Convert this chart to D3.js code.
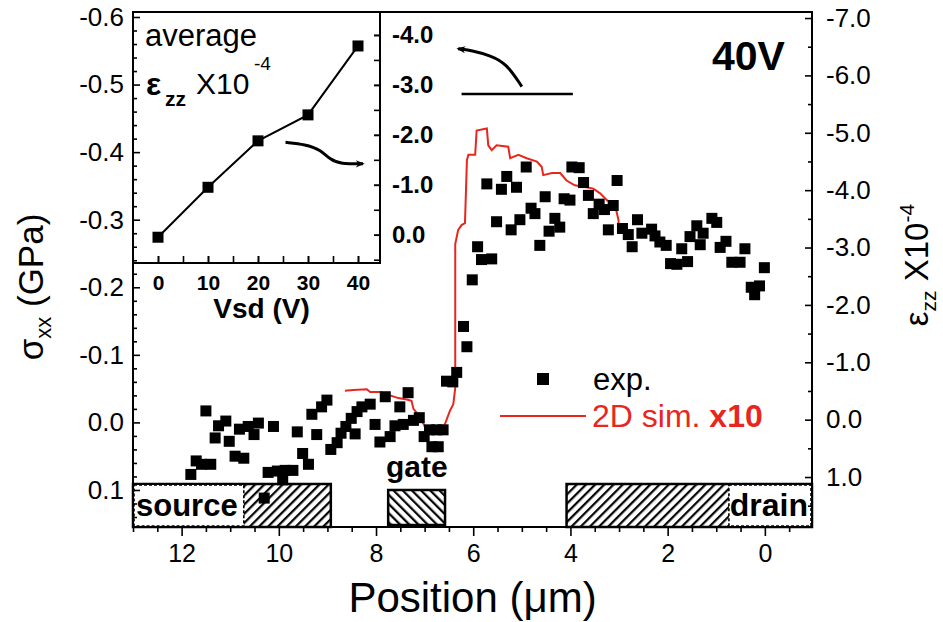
<!DOCTYPE html>
<html>
<head>
<meta charset="utf-8">
<script src="https://cdn.jsdelivr.net/npm/d3@7"></script>
<style>
  body { margin: 0; background: #fff; }
  svg { display: block; font-family: "Liberation Sans", Arial, Helvetica, sans-serif; }
</style>
</head>
<body>
<svg id="chart" width="943" height="622"></svg>
<script>
// experimental points: position (um) and sigma_xx (GPa)
const expPos = [11.81, 11.70, 11.59, 11.40, 11.50, 11.31, 11.24, 11.09, 11.02, 10.90,
  10.72, 10.81, 10.63, 10.51, 10.42, 10.11, 10.30, 10.22, 10.03, 9.87,
  9.71, 9.92, 9.62, 9.51, 9.39, 9.32, 9.22, 9.12, 9.01, 8.93,
  8.80, 8.72, 8.62, 8.51, 8.39, 8.29, 8.12, 8.43, 8.02, 7.92,
  7.81, 7.71, 7.61, 7.51, 7.44, 7.34, 7.23, 7.11, 7.01, 6.90,
  6.75, 6.62, 6.85, 6.72, 6.55, 6.42, 6.34, 6.20, 6.13, 6.02,
  5.91, 5.83, 5.62, 5.72, 5.42, 5.31, 5.11, 4.91, 5.52, 5.22,
  5.04, 4.81, 4.73, 4.52, 4.63, 4.44, 4.32, 4.22, 4.13, 4.01,
  3.97, 3.82, 3.73, 3.63, 3.53, 3.41, 3.30, 3.12, 3.04, 3.22,
  2.93, 2.81, 2.73, 2.62, 2.53, 2.33, 2.26, 2.16, 2.03, 1.94,
  1.81, 1.71, 1.59, 1.54, 1.40, 1.27, 1.33, 1.09, 0.99, 0.92,
  0.80, 0.68, 0.51, 0.41, 0.28, 0.11, 0.21, 0.01];
const expSigma = [0.077, 0.057, 0.062, 0.062, -0.017, 0.023, 0.005, -0.002, 0.028, 0.050,
  0.053, 0.010, 0.006, 0.018, 0.001, 0.006, 0.112, 0.074, 0.072, 0.071,
  0.071, 0.085, 0.014, 0.046, 0.062, -0.012, 0.018, -0.023, -0.033, 0.040,
  0.030, 0.016, 0.006, -0.006, -0.016, -0.023, -0.027, 0.017, 0.003, 0.029,
  -0.038, 0.021, 0.005, -0.023, 0.003, -0.044, -0.003, -0.007, 0.021, 0.011,
  0.011, 0.011, 0.036, 0.036, -0.061, -0.060, -0.074, -0.142, -0.112, -0.211,
  -0.260, -0.241, -0.242, -0.353, -0.345, -0.364, -0.348, -0.378, -0.297, -0.285,
  -0.300, -0.317, -0.309, -0.334, -0.262, -0.283, -0.302, -0.289, -0.331, -0.329,
  -0.378, -0.377, -0.355, -0.336, -0.309, -0.323, -0.315, -0.321, -0.358, -0.285,
  -0.287, -0.278, -0.260, -0.300, -0.280, -0.286, -0.276, -0.267, -0.262, -0.235,
  -0.234, -0.257, -0.238, -0.275, -0.291, -0.280, -0.263, -0.302, -0.296, -0.259,
  -0.268, -0.237, -0.237, -0.257, -0.200, -0.202, -0.189, -0.229];

// 2D simulation (x10), same axes
const simPos = [8.64, 8.47, 8.19, 8.12, 7.92, 7.54, 7.37, 7.27, 7.23, 7.09,
  6.99, 6.89, 6.66, 6.58, 6.48, 6.41, 6.37, 6.37, 6.37, 6.31,
  6.24, 6.17, 6.13, 6.10, 5.96, 5.93, 5.72, 5.69, 5.62, 5.52,
  5.28, 5.24, 5.07, 4.90, 4.69, 4.59, 4.56, 4.38, 4.21, 4.08,
  3.91, 3.67, 3.53, 3.39, 3.25, 3.08, 3.01, 3.01];
const simSigma = [-0.047, -0.048, -0.049, -0.045, -0.045, -0.036, -0.034, -0.032, -0.020, -0.008,
  0.007, 0.010, 0.010, 0.002, -0.017, -0.027, -0.051, -0.151, -0.264, -0.285,
  -0.292, -0.295, -0.388, -0.396, -0.396, -0.432, -0.435, -0.410, -0.403, -0.410,
  -0.408, -0.391, -0.396, -0.391, -0.386, -0.378, -0.366, -0.369, -0.369, -0.358,
  -0.351, -0.348, -0.346, -0.339, -0.329, -0.321, -0.299, -0.295];

// inset: average strain vs source-drain voltage
const vsd = [0, 10, 20, 30, 40];
const avgStrain = [0.05, -0.95, -1.88, -2.40, -3.78];

// tick labels
const sigmaTicks = [-0.6, -0.5, -0.4, -0.3, -0.2, -0.1, 0.0, 0.1];
const strainTicks = [-7, -6, -5, -4, -3, -2, -1, 0, 1];
const posTicks = [12, 10, 8, 6, 4, 2, 0];
const vsdTicks = [0, 10, 20, 30, 40];
const insetStrainTicks = [-4, -3, -2, -1, 0];

// contacts along the channel (um)
const electrodes = [
  { name: "source", from: 13, to: 8.93, hatch: "fwd", tag: [13, 10.7] },
  { name: "gate", from: 7.75, to: 6.58, hatch: "back" },
  { name: "drain", from: 4.08, to: -0.97, hatch: "fwd", tag: [0.76, -0.97] }
];

// annotations: level of the channel average and the curved arrows
const levelPos = [6.24, 3.95];
const levelSigma = -0.486;
const arrowPos = [5.00, 5.31, 5.65, 6.00, 6.31];
const arrowSigma = [-0.497, -0.531, -0.543, -0.550, -0.553];
const insetArrowV = [25.5, 29.5, 32.5, 34.5, 36.5, 41];
const insetArrowE = [-1.85, -1.81, -1.70, -1.50, -1.42, -1.42];

const W = 943, H = 622;
const frame = { left: 133, right: 812, top: 12, bottom: 527 };
const red = "#e8261e";

const x = d3.scaleLinear().domain([13, -0.97]).range([frame.left, frame.right]);
const yL = d3.scaleLinear().domain([-0.6074, 0.1548]).range([frame.top, frame.bottom]);
const yR = d3.scaleLinear().domain([-7.105, 1.871]).range([frame.top, frame.bottom]);

const inset = { left: 133, right: 380, top: 12, bottom: 263 };
const xi = d3.scaleLinear().domain([-5, 44.4]).range([inset.left, inset.right]);
const yi = d3.scaleLinear().domain([-4.46, 0.566]).range([inset.top, inset.bottom]);

const svg = d3.select("#chart");
svg.append("rect").attr("width", W).attr("height", H).attr("fill", "#fff");

const defs = svg.append("defs");
function hatch(id, angle) {
  defs.append("pattern")
    .attr("id", id)
    .attr("patternUnits", "userSpaceOnUse")
    .attr("width", 6.5).attr("height", 6.5)
    .attr("patternTransform", `rotate(${angle})`)
    .append("line")
    .attr("x1", 3).attr("y1", -1).attr("x2", 3).attr("y2", 8)
    .attr("stroke", "#000").attr("stroke-width", 2.2);
}
hatch("fwd", 45);
hatch("back", -45);

defs.append("marker")
  .attr("id", "head")
  .attr("markerUnits", "userSpaceOnUse")
  .attr("viewBox", "0 0 10 10")
  .attr("refX", 8).attr("refY", 5)
  .attr("markerWidth", 12).attr("markerHeight", 9)
  .attr("orient", "auto")
  .append("path").attr("d", "M0,1 L10,5 L0,9 L3,5 z").attr("fill", "#000");

const fmt1 = d => d.toFixed(1);

function tidy(g, size, weight) {
  g.attr("font-size", null).attr("font-family", null);
  g.select(".domain").remove();
  g.selectAll(".tick line").attr("stroke", "#000").attr("stroke-width", 1.6);
  g.selectAll(".tick text").attr("fill", "#000")
    .style("font-size", size + "px").style("font-weight", weight || "normal");
}

// electrodes
const elec = svg.append("g");
electrodes.forEach(e => {
  const top = e.name === "gate" ? 490 : 484;
  const bot = e.name === "gate" ? 525 : frame.bottom;
  elec.append("rect")
    .attr("x", x(e.from)).attr("y", top)
    .attr("width", x(e.to) - x(e.from)).attr("height", bot - top)
    .attr("fill", `url(#${e.hatch})`)
    .attr("stroke", "#000").attr("stroke-width", 2.5);
  if (e.tag) {
    elec.append("rect")
      .attr("x", x(e.tag[0]) + 1).attr("y", top + 1)
      .attr("width", x(e.tag[1]) - x(e.tag[0]) - 2).attr("height", bot - top - 2)
      .attr("fill", "#fff")
      .attr("stroke", "#000").attr("stroke-width", 1.6)
      .attr("stroke-dasharray", "3,2");
  }
});
elec.append("text").attr("x", 136).attr("y", 516).text("source")
  .style("font-size", "31px").style("font-weight", "bold");
elec.append("text").attr("x", 808).attr("y", 516).attr("text-anchor", "end").text("drain")
  .style("font-size", "32px").style("font-weight", "bold");
elec.append("text").attr("x", x(7.16)).attr("y", 477).attr("text-anchor", "middle").text("gate")
  .style("font-size", "30px").style("font-weight", "bold");

// simulation curve
const sim = simPos.map((p, i) => [p, simSigma[i]]);
svg.append("path")
  .datum(sim)
  .attr("fill", "none")
  .attr("stroke", red)
  .attr("stroke-width", 2)
  .attr("d", d3.line().x(d => x(d[0])).y(d => yL(d[1])));

// measured points
const sq = 11;
svg.append("g")
  .selectAll("rect")
  .data(expPos.map((p, i) => [p, expSigma[i]]))
  .join("rect")
  .attr("x", d => x(d[0]) - sq / 2)
  .attr("y", d => yL(d[1]) - sq / 2)
  .attr("width", sq).attr("height", sq)
  .attr("fill", "#000");

// frame
svg.append("rect")
  .attr("x", frame.left).attr("y", frame.top)
  .attr("width", frame.right - frame.left).attr("height", frame.bottom - frame.top)
  .attr("fill", "none").attr("stroke", "#000").attr("stroke-width", 2);

// left axis: sigma_xx
const sigmaMinor = d3.range(-0.6, 0.155, 0.02).filter(v => sigmaTicks.every(t => Math.abs(t - v) > 1e-6));
svg.append("g").attr("transform", `translate(${frame.left},0)`)
  .call(d3.axisLeft(yL).tickValues(sigmaMinor).tickSize(-4).tickFormat(""))
  .call(tidy, 26);
svg.append("g").attr("transform", `translate(${frame.left},0)`)
  .call(d3.axisLeft(yL).tickValues(sigmaTicks).tickSize(-7).tickPadding(9).tickFormat(fmt1))
  .call(tidy, 26);

// right axis: epsilon_zz
const strainMinor = d3.range(-6.5, 1.6, 1);
svg.append("g").attr("transform", `translate(${frame.right},0)`)
  .call(d3.axisRight(yR).tickValues(strainMinor).tickSize(-4).tickFormat(""))
  .call(tidy, 26);
svg.append("g").attr("transform", `translate(${frame.right},0)`)
  .call(d3.axisRight(yR).tickValues(strainTicks).tickSize(-7).tickPadding(14).tickFormat(fmt1))
  .call(tidy, 26);

// bottom axis: position
const posMinor = d3.range(13, -1, -0.5).filter(v => !posTicks.includes(v));
svg.append("g").attr("transform", `translate(0,${frame.bottom})`)
  .call(d3.axisBottom(x).tickValues(posMinor).tickSize(5).tickFormat(""))
  .call(tidy, 25);
svg.append("g").attr("transform", `translate(0,${frame.bottom})`)
  .call(d3.axisBottom(x).tickValues(posTicks).tickSize(9).tickPadding(8).tickFormat(d3.format("d")))
  .call(tidy, 25);

// axis titles
svg.append("text")
  .attr("x", (frame.left + frame.right) / 2).attr("y", 612)
  .attr("text-anchor", "middle")
  .style("font-size", "42px")
  .text("Position (\u03bcm)");

const ttlL = svg.append("text")
  .attr("transform", "translate(43,287) rotate(-90)")
  .attr("text-anchor", "middle")
  .style("font-size", "35px");
ttlL.append("tspan").text("\u03c3");
ttlL.append("tspan").attr("dy", 8).style("font-size", "22px").text("xx");
ttlL.append("tspan").attr("dy", -8).text(" (GPa)");

const ttlR = svg.append("text")
  .attr("transform", "translate(928,265) rotate(-90)")
  .attr("text-anchor", "middle")
  .style("font-size", "33px");
ttlR.append("tspan").text("\u03b5");
ttlR.append("tspan").attr("dy", 8).style("font-size", "21px").text("zz");
ttlR.append("tspan").attr("dy", -8).text(" X10");
ttlR.append("tspan").attr("dy", -14).style("font-size", "21px").text("-4");

svg.append("text")
  .attr("x", 712).attr("y", 70)
  .style("font-size", "41px").style("font-weight", "bold")
  .text("40V");

// channel-average level and arrow toward the inset scale
svg.append("line")
  .attr("x1", x(levelPos[0])).attr("x2", x(levelPos[1]))
  .attr("y1", yL(levelSigma)).attr("y2", yL(levelSigma))
  .attr("stroke", "#000").attr("stroke-width", 2.5);
svg.append("path")
  .datum(arrowPos.map((p, i) => [p, arrowSigma[i]]))
  .attr("fill", "none").attr("stroke", "#000").attr("stroke-width", 3)
  .attr("marker-end", "url(#head)")
  .attr("d", d3.line().curve(d3.curveBasis).x(d => x(d[0])).y(d => yL(d[1])));

// legend
const lg = svg.append("g");
lg.append("rect").attr("x", 537).attr("y", 373).attr("width", 12).attr("height", 12).attr("fill", "#000");
lg.append("text").attr("x", 593).attr("y", 390).style("font-size", "31px").text("exp.");
lg.append("line").attr("x1", 500).attr("x2", 586).attr("y1", 416).attr("y2", 416)
  .attr("stroke", red).attr("stroke-width", 2);
const lgt = lg.append("text").attr("x", 592).attr("y", 427).attr("fill", red).style("font-size", "32px");
lgt.append("tspan").text("2D sim. ");
lgt.append("tspan").style("font-weight", "bold").text("x10");

// inset
const ins = svg.append("g");
ins.append("rect")
  .attr("x", inset.left).attr("y", inset.top)
  .attr("width", inset.right - inset.left).attr("height", inset.bottom - inset.top)
  .attr("fill", "#fff").attr("stroke", "#000").attr("stroke-width", 2);

ins.append("g").attr("transform", `translate(0,${inset.bottom})`)
  .call(d3.axisBottom(xi).tickValues(d3.range(0, 45, 5)).tickSize(-7).tickFormat(""))
  .call(tidy, 20);
ins.append("g").attr("transform", `translate(0,${inset.bottom})`)
  .call(d3.axisBottom(xi).tickValues(vsdTicks).tickSize(-7).tickPadding(12).tickFormat(d3.format("d")))
  .call(tidy, 21, "bold");

ins.append("g").attr("transform", `translate(${inset.right},0)`)
  .call(d3.axisRight(yi).tickValues(d3.range(-4, 0.6, 0.5)).tickSize(-6).tickFormat(""))
  .call(tidy, 24);
ins.append("g").attr("transform", `translate(${inset.right},0)`)
  .call(d3.axisRight(yi).tickValues(insetStrainTicks).tickSize(-6).tickPadding(12).tickFormat(fmt1))
  .call(tidy, 24, "bold");

// main left ticks run along the inset edge too
svg.append("g").attr("transform", `translate(${frame.left},0)`)
  .call(d3.axisLeft(yL).tickValues(sigmaMinor.filter(v => yL(v) < inset.bottom)).tickSize(-4).tickFormat(""))
  .call(tidy, 24);
svg.append("g").attr("transform", `translate(${frame.left},0)`)
  .call(d3.axisLeft(yL).tickValues(sigmaTicks.filter(v => yL(v) < inset.bottom)).tickSize(-7).tickFormat(""))
  .call(tidy, 24);

ins.append("text")
  .attr("x", (inset.left + inset.right) / 2 + 5).attr("y", 318)
  .attr("text-anchor", "middle")
  .style("font-size", "28px").style("font-weight", "bold")
  .text("Vsd (V)");

const avg = vsd.map((v, i) => [v, avgStrain[i]]);
ins.append("path")
  .datum(avg)
  .attr("fill", "none").attr("stroke", "#000").attr("stroke-width", 2)
  .attr("d", d3.line().x(d => xi(d[0])).y(d => yi(d[1])));
ins.append("g")
  .selectAll("rect")
  .data(avg)
  .join("rect")
  .attr("x", d => xi(d[0]) - sq / 2)
  .attr("y", d => yi(d[1]) - sq / 2)
  .attr("width", sq).attr("height", sq)
  .attr("fill", "#000");

ins.append("text").attr("x", 145).attr("y", 46).style("font-size", "31px").text("average");
ins.append("text").attr("x", 146).attr("y", 95).style("font-size", "32px").style("font-weight", "bold").text("\u03b5");
ins.append("text").attr("x", 165).attr("y", 106).style("font-size", "21px").style("font-weight", "bold").text("zz");
ins.append("text").attr("x", 196).attr("y", 94).style("font-size", "30px").text("X10");
ins.append("text").attr("x", 254).attr("y", 70).style("font-size", "19px").text("-4");

ins.append("path")
  .datum(insetArrowV.map((v, i) => [v, insetArrowE[i]]))
  .attr("fill", "none").attr("stroke", "#000").attr("stroke-width", 3)
  .attr("marker-end", "url(#head)")
  .attr("d", d3.line().curve(d3.curveBasis).x(d => xi(d[0])).y(d => yi(d[1])));
</script>
</body>
</html>
